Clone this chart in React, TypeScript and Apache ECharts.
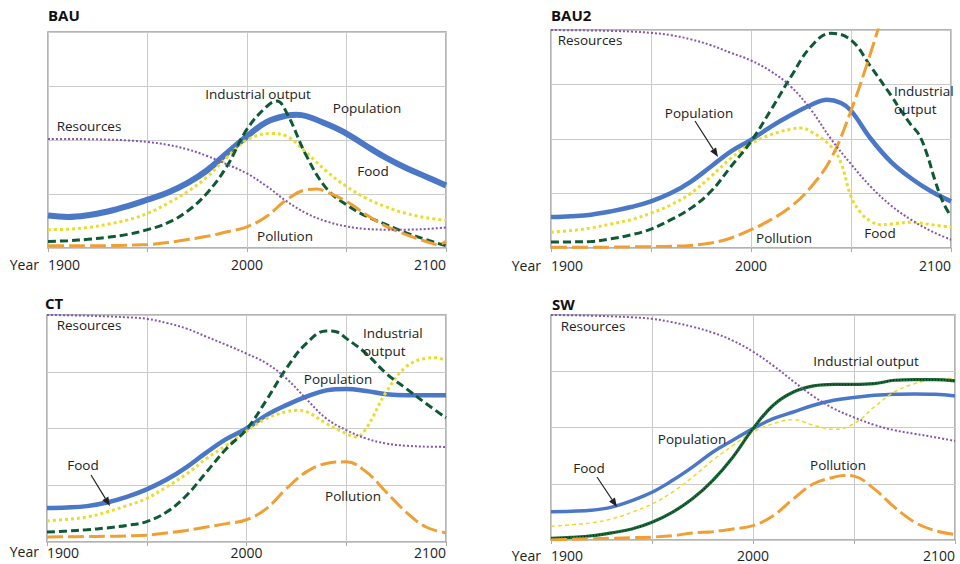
import React, { useEffect, useRef } from "react";
import * as echarts from "echarts";

// ---------- data ----------
const panelTitles = ["BAU", "BAU2", "CT", "SW"];
const xLabelYears = [1900, 2000, 2100];
const yearName = "Year";

const bauPopulation = [[1900,15],[1910,14.4],[1920,15.2],[1930,16.9],[1940,19.4],[1950,22.4],[1960,25.6],[1970,30],[1980,36],[1990,44],[2000,51.7],[2010,58.4],[2020,61.3],[2025,61.7],[2030,61],[2040,57.4],[2050,53],[2060,47.2],[2070,41.7],[2080,37],[2090,33],[2100,28.9]];
const bauFood = [[1900,8.5],[1910,8.7],[1920,9.5],[1930,11],[1940,13],[1950,16],[1960,20.6],[1970,26],[1980,33],[1990,42],[2000,50],[2012,53],[2020,51.7],[2030,44],[2040,35.5],[2050,28.5],[2060,23],[2070,19],[2080,16],[2090,14],[2100,12.8]];
const bauIndustrial = [[1900,3],[1910,3.4],[1920,4],[1930,5],[1940,6.3],[1950,8.5],[1960,11.6],[1970,17],[1980,25.5],[1990,38],[2000,55],[2010,65.6],[2015,68],[2020,62.5],[2030,42.4],[2040,27.5],[2050,20],[2060,14.7],[2070,10.8],[2080,7],[2090,3.9],[2100,1]];
const bauPollution = [[1900,1],[1910,1],[1920,1],[1930,1.1],[1940,1.3],[1950,1.6],[1960,2.5],[1970,3.9],[1980,5.4],[1990,7.5],[2000,9.8],[2010,14.7],[2020,22.4],[2030,27],[2035,27.3],[2040,26],[2050,21.6],[2060,15.4],[2070,10],[2080,6.2],[2090,3],[2096,1.6],[2100,3]];
const bauResources = [[1900,50.5],[1910,50.5],[1920,50.4],[1930,50.2],[1940,49.8],[1950,49.1],[1960,47.8],[1970,45.7],[1980,42.6],[1990,38.7],[2000,34.5],[2010,28.5],[2020,21.6],[2030,16],[2040,12.3],[2050,10],[2060,8.8],[2070,8.5],[2080,8.5],[2090,8.8],[2100,9.5]];

const bau2Population = [[1900,14.2],[1910,14.6],[1920,15.3],[1930,16.8],[1940,18.8],[1950,21.4],[1960,25.2],[1970,30.5],[1980,37.4],[1990,44.3],[2000,49.6],[2010,55.7],[2020,61],[2030,65.6],[2038,68],[2045,66.5],[2050,63],[2060,50],[2070,39.5],[2080,32],[2090,26],[2100,21.4]];
const bau2Food = [[1900,7.3],[1910,8],[1920,9.2],[1930,11],[1940,13],[1950,16],[1960,19.8],[1970,25.2],[1980,32.8],[1990,41.2],[2000,47.8],[2010,52],[2020,54.5],[2025,55],[2030,53.4],[2040,46.6],[2045,39],[2050,23.7],[2055,16],[2060,12.2],[2065,10.7],[2070,11],[2080,11.8],[2090,10.7],[2100,9.5]];
const bau2Industrial = [[1900,2.7],[1910,2.8],[1920,3],[1930,4.2],[1940,6],[1950,8.7],[1960,13],[1970,18.3],[1980,26],[1990,37.4],[2000,48.9],[2010,63.4],[2020,78.6],[2030,92.4],[2040,98.5],[2050,95.4],[2060,83],[2070,70],[2075,63],[2080,56.5],[2084,52],[2088,43],[2092,31],[2096,21],[2100,14.5]];
const bau2Pollution = [[1900,0.3],[1910,0.3],[1920,0.3],[1930,0.4],[1940,0.5],[1950,0.6],[1960,0.8],[1970,1.2],[1980,2.3],[1990,4.6],[2000,8.4],[2010,13],[2020,19],[2030,28],[2040,41],[2050,63],[2060,90],[2065,105],[2070,122]];
const bau2Resources = [[1900,100],[1910,99.9],[1920,99.8],[1930,99.6],[1940,99.3],[1950,98.7],[1960,97.6],[1970,95.7],[1980,93],[1990,89.5],[2000,86],[2010,81],[2020,74],[2030,63.4],[2040,50],[2050,38.5],[2060,28],[2070,19.5],[2080,13],[2090,7.8],[2100,3.8]];

const ctPopulation = [[1900,15],[1910,15.2],[1920,15.8],[1930,17.4],[1940,19.9],[1950,23.2],[1960,27.5],[1970,33],[1980,39.5],[1990,45.4],[2000,50],[2010,55.9],[2020,60.3],[2030,64],[2040,66.8],[2050,67.4],[2060,66.5],[2070,65.1],[2080,64.6],[2090,64.6],[2100,64.7]];
const ctFood = [[1900,9.3],[1910,10],[1920,11],[1930,13.2],[1940,16],[1950,19.2],[1960,24.3],[1970,30],[1980,36.8],[1990,42.6],[2000,48.8],[2010,54.4],[2020,57.4],[2025,58],[2030,57.4],[2040,52.2],[2050,47.8],[2055,46.3],[2060,50],[2070,66],[2080,77.2],[2090,80.9],[2095,81.2],[2100,79.9]];
const ctIndustrial = [[1900,4.4],[1910,4.8],[1920,5.4],[1930,6.2],[1940,7.3],[1950,9],[1960,13.2],[1970,20.6],[1980,30.9],[1990,41.2],[2000,49.6],[2010,62.5],[2020,76.5],[2030,87.5],[2040,93],[2045,92.6],[2050,89.7],[2060,83],[2070,74.3],[2080,67.6],[2090,61],[2100,54.7]];
const ctPollution = [[1900,2.2],[1910,2.3],[1920,2.4],[1930,2.5],[1940,2.7],[1950,3],[1960,4],[1970,5.1],[1980,6.6],[1990,8.1],[2000,9.8],[2010,14.7],[2020,23.5],[2030,30.9],[2040,34.6],[2050,35.3],[2060,30.9],[2070,22],[2080,13.2],[2090,6.6],[2100,4.1]];
const ctResources = [[1900,100],[1910,99.9],[1920,99.7],[1930,99.4],[1940,99],[1950,98.3],[1960,96.5],[1970,94],[1980,90.4],[1990,86.8],[2000,83],[2010,78.7],[2020,72],[2030,63],[2040,54.4],[2050,49.3],[2060,45.6],[2070,43.4],[2080,42.4],[2090,42],[2100,41.9]];

const swPopulation = [[1900,12.6],[1910,12.8],[1920,13.2],[1930,14.6],[1940,17.5],[1950,21.2],[1960,26.4],[1970,32.4],[1980,39],[1990,44.3],[2000,49.5],[2010,53.9],[2020,56.9],[2030,59.9],[2040,62.1],[2050,63.3],[2060,64.3],[2070,64.8],[2080,64.9],[2090,64.8],[2100,64]];
const swFood = [[1900,6.1],[1910,6.8],[1920,7.6],[1930,9.4],[1940,12.3],[1950,16],[1960,21.2],[1970,27.9],[1980,35.4],[1990,42],[2000,48],[2010,51.7],[2020,53.5],[2030,51],[2040,49.2],[2050,51.7],[2060,59.1],[2070,65.8],[2080,69.5],[2090,71.5],[2100,71.8]];
const swIndustrial = [[1900,0.7],[1910,1.2],[1920,1.9],[1930,3.2],[1940,4.9],[1950,7.9],[1960,12.3],[1970,18.3],[1980,26.4],[1990,36.8],[2000,49.5],[2010,59.9],[2020,65.8],[2030,68.5],[2040,69.2],[2050,69.2],[2060,69.5],[2070,71],[2080,71.3],[2090,71.3],[2100,70.7]];
const swPollution = [[1900,0],[1910,0.3],[1920,0.5],[1930,0.8],[1940,1],[1950,1.3],[1960,1.9],[1970,3.1],[1980,3.7],[1990,4.9],[2000,6.4],[2010,10.8],[2020,18.3],[2030,25],[2040,27.9],[2045,28.7],[2050,28.4],[2060,22.7],[2070,14.6],[2080,7.9],[2090,4.2],[2100,2.4]];
const swResources = [[1900,100],[1910,99.9],[1920,99.7],[1930,99.4],[1940,99],[1950,98.3],[1960,96.8],[1970,94.8],[1980,92.2],[1990,88.6],[2000,83.7],[2010,77.5],[2020,70.5],[2030,63.8],[2040,58.4],[2050,54.5],[2060,51.2],[2070,48.8],[2080,47.2],[2090,45.7],[2100,44]];

// ---------- styles ----------
const FONT = '"Open Sans", "Liberation Sans", Arial, sans-serif';
const C_POP = "#4a77c6";
const C_FOOD = "#ecdc2a";
const C_IND = "#0f5a36";
const C_POLL = "#ef9f33";
const C_RES = "#8557b2";
const GRID_LINE = "#cbcbcb";

const grids = [
  { left: 48, top: 32, width: 398, height: 216, labelMargin: 9, popW: 6, yearX: 39, yearY: 264 },
  { left: 551, top: 30, width: 400, height: 218, labelMargin: 10, popW: 4.5, yearX: 541, yearY: 265 },
  { left: 47, top: 315, width: 399, height: 227, labelMargin: 3, popW: 4.5, yearX: 39, yearY: 551 },
  { left: 551, top: 315, width: 404, height: 225, labelMargin: 8, popW: 3.5, yearX: 541, yearY: 555 },
];

const panelSeries = [
  { pop: bauPopulation, food: bauFood, ind: bauIndustrial, poll: bauPollution, res: bauResources },
  { pop: bau2Population, food: bau2Food, ind: bau2Industrial, poll: bau2Pollution, res: bau2Resources },
  { pop: ctPopulation, food: ctFood, ind: ctIndustrial, poll: ctPollution, res: ctResources },
  { pop: swPopulation, food: swFood, ind: swIndustrial, poll: swPollution, res: swResources },
];

type Lbl = { t: string; x: number; y: number; a?: string };
const annotations: Lbl[][] = [
  [
    { t: "Industrial output", x: 258, y: 94 },
    { t: "Population", x: 367, y: 108 },
    { t: "Resources", x: 89, y: 126 },
    { t: "Food", x: 373, y: 171 },
    { t: "Pollution", x: 285, y: 236 },
  ],
  [
    { t: "Resources", x: 590, y: 40 },
    { t: "Industrial", x: 894, y: 91, a: "left" },
    { t: "output", x: 894, y: 109, a: "left" },
    { t: "Population", x: 699, y: 113 },
    { t: "Pollution", x: 784, y: 238 },
    { t: "Food", x: 880, y: 233 },
  ],
  [
    { t: "Resources", x: 89, y: 325 },
    { t: "Industrial", x: 363, y: 333, a: "left" },
    { t: "output", x: 363, y: 351, a: "left" },
    { t: "Population", x: 338, y: 379 },
    { t: "Food", x: 83, y: 465 },
    { t: "Pollution", x: 353, y: 496 },
  ],
  [
    { t: "Resources", x: 593, y: 326 },
    { t: "Industrial output", x: 866, y: 361 },
    { t: "Population", x: 692, y: 439 },
    { t: "Food", x: 589, y: 468 },
    { t: "Pollution", x: 838, y: 465 },
  ],
];

const titlePos = [
  { x: 48, y: 15 },
  { x: 551, y: 15 },
  { x: 45, y: 303 },
  { x: 552, y: 304 },
];

const arrows = [
  [695, 121, 718, 157],
  [91, 475, 110, 506],
  [597, 477, 617, 507],
];

function arrow(x1: number, y1: number, x2: number, y2: number) {
  const dx = x2 - x1, dy = y2 - y1;
  const len = Math.sqrt(dx * dx + dy * dy);
  const ux = dx / len, uy = dy / len;
  const hl = 9, hw = 3.5;
  const bx = x2 - ux * hl, by = y2 - uy * hl;
  return [
    { type: "line", shape: { x1, y1, x2: bx, y2: by }, style: { stroke: "#222", lineWidth: 1.2 }, z: 100 },
    {
      type: "polygon",
      shape: { points: [[x2, y2], [bx - uy * hw, by + ux * hw], [bx + uy * hw, by - ux * hw]] },
      style: { fill: "#222" },
      z: 100,
    },
  ];
}

export default function App() {
  const ref = useRef<HTMLDivElement>(null);
  useEffect(() => {
    document.body.style.margin = "0";
    if (!ref.current) return;
    const chart = echarts.init(ref.current, null, { renderer: "svg" });

    const series: any[] = [];
    panelSeries.forEach((p, i) => {
      const base = { type: "line", xAxisIndex: i, yAxisIndex: i, smooth: 0.4, showSymbol: false, symbol: "none", silent: true };
      series.push({ ...base, name: "Population", data: p.pop, lineStyle: { color: C_POP, width: grids[i].popW } });
      series.push({
        ...base, name: "Food", data: p.food,
        lineStyle: i === 3 ? { color: C_FOOD, width: 1.5, type: [4, 3] } : { color: C_FOOD, width: 3, type: [3, 3] },
      });
      if (i === 3) {
        series.push({ ...base, name: "Industrial output", data: p.ind, lineStyle: { color: "#1c6a3a", width: 3.2 } });
        series.push({ ...base, name: "Industrial output", data: p.ind, lineStyle: { color: "#06220f", width: 1.2, type: [1, 2] } });
      } else {
        series.push({ ...base, name: "Industrial output", data: p.ind, lineStyle: { color: C_IND, width: 3, type: [8, 4] } });
      }
      series.push({ ...base, name: "Pollution", data: p.poll, lineStyle: { color: C_POLL, width: 3, type: [16, 5] } });
      series.push({ ...base, name: "Resources", data: p.res, lineStyle: { color: C_RES, width: 2, type: [2, 2] } });
    });

    const graphic: any[] = [];
    panelTitles.forEach((t, i) => {
      graphic.push({
        type: "text", x: titlePos[i].x, y: titlePos[i].y,
        style: { text: t, font: `bold 15px ${FONT}`, fill: "#111", align: "left", verticalAlign: "middle", textAlign: "left", textVerticalAlign: "middle" },
      });
      graphic.push({
        type: "text", x: grids[i].yearX, y: grids[i].yearY,
        style: { text: yearName, font: `14px ${FONT}`, fill: "#222", align: "right", verticalAlign: "middle", textAlign: "right", textVerticalAlign: "middle" },
      });
      annotations[i].forEach((l) => {
        const a = l.a || "center";
        graphic.push({
          type: "text", x: l.x, y: l.y, z: 100,
          style: { text: l.t, font: `13.5px ${FONT}`, fill: "#222", align: a, verticalAlign: "middle", textAlign: a, textVerticalAlign: "middle" },
        });
      });
    });
    arrows.forEach((a) => graphic.push(...arrow(a[0], a[1], a[2], a[3])));

    chart.setOption({
      animation: false,
      backgroundColor: "#fff",
      grid: grids.map((g) => ({
        left: g.left, top: g.top, width: g.width, height: g.height,
        show: true, borderColor: "#9b9b9b", borderWidth: 1.5, backgroundColor: "#fff",
      })),
      xAxis: grids.map((g, i) => ({
        type: "value", gridIndex: i, min: 1900, max: 2100, interval: 50,
        axisLine: { show: false },
        axisTick: { show: true, length: 4, lineStyle: { color: "#aaa" } },
        axisLabel: {
          margin: g.labelMargin, fontSize: 14, color: "#222", fontFamily: FONT,
          alignMinLabel: "left", alignMaxLabel: "right",
          formatter: (v: number) => (xLabelYears.includes(v) ? String(v) : ""),
        },
        splitLine: { show: true, lineStyle: { color: GRID_LINE, width: 1 } },
      })),
      yAxis: grids.map((g, i) => ({
        type: "value", gridIndex: i, min: 0, max: 100, interval: 25,
        axisLine: { show: false }, axisTick: { show: false }, axisLabel: { show: false },
        splitLine: { show: true, lineStyle: { color: GRID_LINE, width: 1 } },
      })),
      series,
      graphic,
    });
    return () => chart.dispose();
  }, []);
  return <div ref={ref} style={{ width: 960, height: 564 }} />;
}
